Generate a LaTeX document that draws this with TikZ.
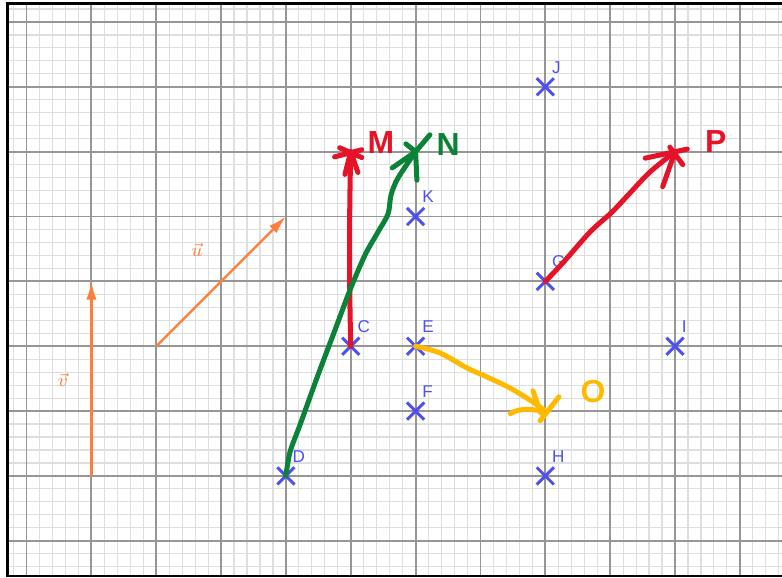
\documentclass[tikz,border=0pt]{standalone}
\usepackage{fontspec}
\setsansfont{Liberation Sans}
\usetikzlibrary{shapes.misc,arrows.meta}
\definecolor{ptblue}{RGB}{80,80,240}
\definecolor{penred}{RGB}{230,18,40}
\definecolor{pengreen}{RGB}{10,130,55}
\definecolor{penyellow}{RGB}{255,186,0}
\definecolor{vecorange}{RGB}{255,125,60}
\definecolor{minorgrid}{RGB}{222,222,222}
\definecolor{majorgrid}{RGB}{150,150,150}
\tikzset{
  lbl/.style={text=ptblue,font=\sffamily\fontsize{7.5}{8}\selectfont,inner sep=0pt,xshift=-1pt,yshift=2pt},
  crosspt/.style={cross out,draw=ptblue,line width=1.3pt,minimum size=0.22cm,inner sep=0pt,
    label={[lbl]above right:#1}},
  pen/.style={line width=2.2pt,line cap=round,line join=round},
  hand/.style={font=\sffamily\bfseries\fontsize{14}{14}\selectfont,inner sep=0pt},
  vec/.style={vecorange,line width=1pt,-{Latex[length=8pt,width=4.5pt]}}
}
\begin{document}
\begin{tikzpicture}
	\useasboundingbox (-0.409,0.339) rectangle (11.65,-8.574);
	% squared paper
	\begin{scope}
		\clip (-0.293,-8.543) rectangle (11.8,0.285);
		\foreach \k in {-2,...,60}
			\draw[minorgrid,line width=0.5pt] (\k/5,-9) -- (\k/5,1);
		\foreach \k in {-45,...,5}
			\draw[minorgrid,line width=0.5pt] (-1,\k/5) -- (12,\k/5);
		\draw[majorgrid,line width=0.8pt,step=1] (-1,-9) grid (12,1);
	\end{scope}
	\draw[line width=1.1pt] (11.8,0.285) -- (-0.293,0.285) -- (-0.293,-8.543) -- (11.8,-8.543);
	
	% vectors
	\coordinate (v0) at (1,-7);
	\coordinate (v1) at (1,-4);
	\coordinate (u0) at (2,-5);
	\coordinate (u1) at (4,-3);
	\draw[vec] (v0) -- (v1);
	\draw[vec] (u0) -- (u1);
	\node[text=vecorange,font=\footnotesize] (vlbl) at (0.56,-5.52) {$\vec{v}$};
	\node[text=vecorange,font=\footnotesize] (ulbl) at (2.63,-3.52) {$\vec{u}$};
	
	% points
	\node[crosspt=J] (J) at (8,-1) {};
	\node[crosspt=K] (K) at (6,-3) {};
	\node[crosspt=G] (G) at (8,-4) {};
	\node[crosspt=C] (C) at (5,-5) {};
	\node[crosspt=E] (E) at (6,-5) {};
	\node[crosspt=I] (I) at (10,-5) {};
	\node[crosspt=F] (F) at (6,-6) {};
	\node[crosspt=D] (D) at (4,-7) {};
	\node[crosspt=H] (H) at (8,-7) {};
	
	% hand drawn images
	\coordinate (M) at (5,-2);
	\coordinate (N) at (6,-2);
	\coordinate (P) at (10,-2);
	\coordinate (O) at (8,-6);
	
	\draw[pen,penred] (C.center) .. controls (4.975,-4) and (4.975,-3) .. (M);
	\draw[pen,penred] (M) ++(-0.25,-0.08) -- ++(0.42,0.11)
		(M) ++(-0.17,0.06) -- ++(0.34,-0.15)
		(M) -- ++(-0.09,-0.35) (M) -- ++(0.11,-0.32);
	\node[hand,text=penred] (Mlbl) at (5.466,-1.866) {M};
	
	\draw[pen,pengreen] plot[smooth] coordinates {(D.center) (4.063,-6.63) (4.217,-6.214) (4.495,-5.443) (4.757,-4.75) (4.988,-4.133) (5.22,-3.593) (5.42,-3.238) (5.575,-2.96) (5.621,-2.668) (5.728,-2.406) (N)};
	\draw[pen,pengreen] (N) -- ++(0.22,0.26) (N) -- ++(-0.15,0.12)
		(N) -- ++(0.02,-0.44) (N) -- ++(-0.36,-0.25);
	\node[hand,text=pengreen] (Nlbl) at (6.5,-1.897) {N};
	
	\draw[pen,penred] plot[smooth] coordinates {(G.center) (8.257,-3.73) (8.69,-3.238) (9.03,-2.93) (9.306,-2.637) (9.614,-2.313) (P)};
	\draw[pen,penred] (P) ++(-0.46,-0.1) -- ++(0.65,0.14)
		(P) ++(-0.08,0.07) -- ++(0.2,-0.27)
		(P) -- ++(-0.19,-0.54);
	\node[hand,text=penred] (Plbl) at (10.63,-1.85) {P};
	
	\draw[pen,penyellow] plot[smooth] coordinates {(E.center) (6.377,-5.104) (6.793,-5.335) (7.1,-5.474) (7.455,-5.644) (7.81,-5.86) (O)};
	\draw[pen,penyellow] (O) ++(-0.54,-0.04) .. controls +(0.15,0.1) and +(-0.2,0.02) .. (O)
		(O) ++(-0.19,0.31) -- ++(0.12,-0.34)
		(O) ++(0.21,0.22) -- ++(-0.29,-0.37);
	\node[hand,text=penyellow] (Olbl) at (8.735,-5.705) {O};
\end{tikzpicture}
\end{document}
